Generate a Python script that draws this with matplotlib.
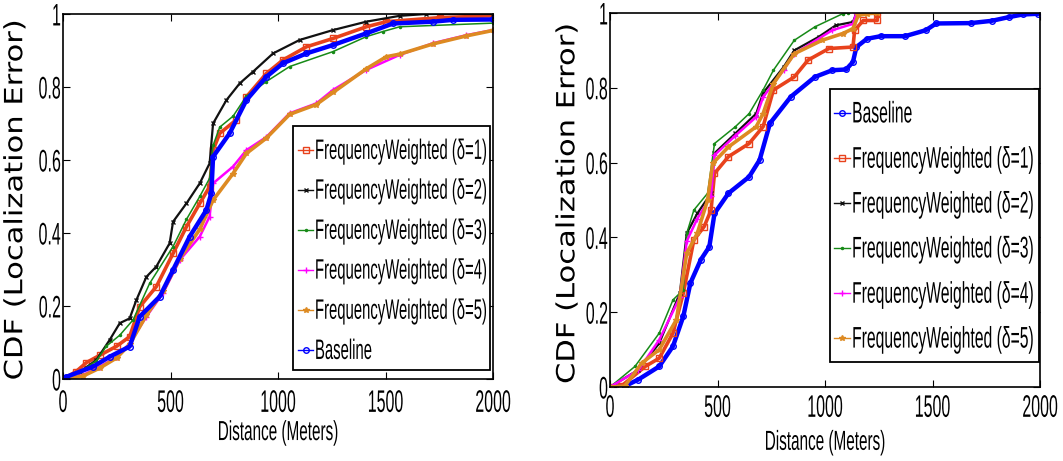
import numpy as np
import matplotlib.pyplot as plt
from matplotlib.patches import Rectangle
from matplotlib.patheffects import AbstractPathEffect
from matplotlib.transforms import Affine2D

# Dane - lewy wykres
l_red_x = [0, 60, 109, 171, 250, 310, 357, 434, 512, 574, 636, 682, 698, 729, 806, 853, 946, 1023, 1132, 1256, 1411, 1504, 1752, 2000]
l_red_y = [0, 0.02, 0.045, 0.065, 0.09, 0.116, 0.198, 0.253, 0.344, 0.417, 0.481, 0.527, 0.627, 0.673, 0.71, 0.773, 0.837, 0.874, 0.91, 0.933, 0.965, 0.979, 0.99, 0.995]
l_black_x = [0, 80, 155, 217, 264, 310, 341, 388, 434, 496, 512, 574, 636, 682, 698, 760, 822, 884, 977, 1101, 1256, 1411, 1566, 1690, 2000]
l_black_y = [0, 0.02, 0.052, 0.107, 0.153, 0.166, 0.216, 0.28, 0.308, 0.372, 0.431, 0.481, 0.536, 0.591, 0.70, 0.764, 0.81, 0.842, 0.892, 0.929, 0.956, 0.979, 0.995, 1.0, 1.0]
l_green_x = [0, 80, 155, 202, 264, 326, 403, 512, 574, 636, 682, 698, 729, 791, 853, 946, 1054, 1256, 1411, 1488, 1566, 2000]
l_green_y = [0, 0.02, 0.05, 0.09, 0.12, 0.162, 0.262, 0.363, 0.437, 0.5, 0.55, 0.64, 0.69, 0.72, 0.775, 0.815, 0.856, 0.897, 0.938, 0.952, 0.965, 0.975]
l_mag_x = [0, 93, 171, 250, 310, 388, 465, 543, 636, 682, 698, 791, 853, 946, 1054, 1178, 1256, 1411, 1566, 1721, 1876, 2000]
l_mag_y = [0, 0.011, 0.034, 0.06, 0.098, 0.171, 0.235, 0.326, 0.39, 0.445, 0.536, 0.582, 0.627, 0.663, 0.728, 0.755, 0.792, 0.847, 0.888, 0.92, 0.942, 0.956]
l_orange_x = [0, 93, 171, 250, 310, 388, 465, 543, 636, 698, 791, 853, 946, 1054, 1178, 1256, 1411, 1504, 1566, 1721, 1876, 2000]
l_orange_y = [0, 0.008, 0.03, 0.058, 0.095, 0.175, 0.24, 0.33, 0.41, 0.49, 0.563, 0.618, 0.66, 0.725, 0.752, 0.785, 0.85, 0.883, 0.89, 0.918, 0.94, 0.955]
l_blue_x = [0, 16, 140, 217, 310, 357, 450, 512, 589, 667, 690, 698, 775, 853, 946, 1023, 1132, 1256, 1411, 1535, 1721, 1814, 2000]
l_blue_y = [0, 0.006, 0.034, 0.061, 0.089, 0.171, 0.226, 0.299, 0.39, 0.463, 0.509, 0.609, 0.673, 0.764, 0.828, 0.865, 0.892, 0.915, 0.947, 0.974, 0.979, 0.984, 0.985]

# Dane - prawy wykres
r_blue_x = [0, 68, 132, 229, 293, 341, 374, 422, 462, 486, 551, 647, 696, 744, 841, 953, 1034, 1098, 1130, 1146, 1195, 1259, 1372, 1469, 1517, 1678, 1775, 1855, 1920, 1992]
r_blue_y = [0, 0.002, 0.02, 0.055, 0.109, 0.189, 0.278, 0.34, 0.375, 0.464, 0.518, 0.562, 0.607, 0.705, 0.776, 0.829, 0.847, 0.849, 0.869, 0.909, 0.931, 0.938, 0.938, 0.954, 0.972, 0.973, 0.979, 0.989, 0.996, 0.998]
r_red_x = [0, 52, 164, 229, 293, 341, 390, 438, 470, 486, 551, 647, 712, 760, 857, 921, 1018, 1130, 1138, 1178, 1243, 1243]
r_red_y = [0, 0.002, 0.055, 0.077, 0.144, 0.251, 0.393, 0.429, 0.473, 0.571, 0.616, 0.651, 0.696, 0.794, 0.829, 0.874, 0.905, 0.909, 0.954, 0.98, 0.98, 1.0]
r_black_x = [0, 132, 229, 325, 357, 406, 470, 486, 583, 680, 712, 808, 857, 970, 1050, 1130, 1146]
r_black_y = [0, 0.046, 0.117, 0.251, 0.411, 0.464, 0.518, 0.625, 0.678, 0.731, 0.786, 0.856, 0.9, 0.936, 0.967, 0.976, 1.0]
r_green_x = [0, 116, 229, 293, 341, 357, 390, 454, 486, 583, 647, 712, 760, 857, 953, 1082, 1106]
r_green_y = [0, 0.055, 0.144, 0.233, 0.26, 0.411, 0.473, 0.518, 0.651, 0.696, 0.731, 0.794, 0.847, 0.927, 0.963, 0.998, 1.0]
r_mag_x = [0, 132, 229, 325, 357, 406, 470, 486, 583, 680, 712, 808, 857, 1034, 1130, 1146]
r_mag_y = [0, 0.045, 0.126, 0.24, 0.39, 0.45, 0.51, 0.62, 0.672, 0.722, 0.775, 0.848, 0.891, 0.954, 0.971, 1.0]
r_orange_x = [0, 68, 148, 229, 309, 357, 406, 454, 478, 551, 680, 712, 760, 857, 986, 1082, 1130, 1155, 1196, 1243]
r_orange_y = [0, 0.002, 0.064, 0.1, 0.18, 0.358, 0.411, 0.5, 0.598, 0.642, 0.696, 0.731, 0.811, 0.891, 0.927, 0.945, 0.958, 0.994, 0.998, 1.0]

x_ticks = [0, 500, 1000, 1500, 2000]
y_ticks = [0, 0.2, 0.4, 0.6, 0.8, 1]
y_tick_labels = ["0", "0.2", "0.4", "0.6", "0.8", "1"]

# Style linii
styl = {
    'red': dict(color='#e8421c', marker='s', lw=2.6, ms=4, mfc='none', label="FrequencyWeighted (δ=1)"),
    'black': dict(color='#111111', marker='x', lw=1.6, ms=3, label="FrequencyWeighted (δ=2)"),
    'green': dict(color='#178a17', marker='.', lw=1.1, ms=3, label="FrequencyWeighted (δ=3)"),
    'mag': dict(color='#ff00ff', marker='+', lw=1.8, ms=4, label="FrequencyWeighted (δ=4)"),
    'orange': dict(color='#dd8a22', marker='*', lw=2.6, ms=4, label="FrequencyWeighted (δ=5)"),
    'blue': dict(color='#0000ff', marker='o', lw=3.2, ms=4, mfc='none', label="Baseline"),
}

FONT = ['Liberation Sans', 'DejaVu Sans']


class Rozciag(AbstractPathEffect):
    # rozciaga tekst w ukladzie liter: sx wzdluz tekstu, sy w pionie liter
    # ay - punkt zaczepienia w pionie (jednostki sciezki, 100 = 1 em)
    def __init__(self, sx=1.0, sy=1.0, ax_frac=0.5, ay=36.0):
        super().__init__()
        self.sx = sx
        self.sy = sy
        self.ax_frac = ax_frac
        self.ay = ay

    def draw_path(self, renderer, gc, tpath, affine, rgbFace=None):
        ext = tpath.get_extents()
        x0 = ext.x0 + self.ax_frac * ext.width
        t = Affine2D().translate(-x0, -self.ay).scale(self.sx, self.sy).translate(x0, self.ay) + affine
        renderer.draw_path(gc, tpath, t, rgbFace)


def uklad_osi(ax, xpad, xl_y, yl_x):
    ax.set_xlim(0, 2000)
    ax.set_ylim(0, 1)
    ax.set_xticks(x_ticks)
    ax.set_xticklabels([str(v) for v in x_ticks], family=FONT, fontsize=11.5)
    ax.set_yticks(y_ticks)
    ax.set_yticklabels(y_tick_labels, family=FONT, fontsize=11.5)
    ax.tick_params(direction='in', length=5, width=0.8, top=True, right=True)
    ax.tick_params(axis='x', pad=xpad)
    ax.tick_params(axis='y', pad=1.5)
    for lab in ax.get_xticklabels():
        lab.set_path_effects([Rozciag(sy=1.95, ay=71.6)])
    for lab in ax.get_yticklabels():
        lab.set_path_effects([Rozciag(sy=1.95, ay=36)])
    for s in ax.spines.values():
        s.set_linewidth(1.2)
    ax.set_xlabel("Distance (Meters)", family=FONT, fontsize=11, va='top',
                  path_effects=[Rozciag(sy=1.8, ay=72)])
    ax.xaxis.set_label_coords(0.5, xl_y)
    ax.set_ylabel("CDF (Localization Error)", family='DejaVu Sans', fontsize=22,
                  path_effects=[Rozciag(sy=0.82, ay=-24)])
    ax.yaxis.set_label_coords(yl_x, 0.49)


def legenda(ax, klucze, box, rows, hx, tx, size, sy):
    x0, y0, x1, y1 = box
    ax.add_patch(Rectangle((x0, y0), x1 - x0, y1 - y0, transform=ax.transAxes, facecolor='white',
                           edgecolor='black', lw=1.3, zorder=5, clip_on=False))
    for k, yy in zip(klucze, rows):
        st = styl[k]
        ax.plot([hx[0], (hx[0] + hx[1]) / 2, hx[1]], [yy, yy, yy], transform=ax.transAxes,
                color=st['color'], lw=1.0, marker=st['marker'], ms=st['ms'],
                mfc=st.get('mfc', st['color']), markevery=[1], zorder=6, clip_on=False)
        ax.text(tx, yy, st['label'], transform=ax.transAxes, family=FONT, fontsize=size,
                va='center', ha='left', zorder=6, path_effects=[Rozciag(sy=sy, ay=36)])


fig = plt.figure(figsize=(10.63, 4.61), dpi=100)

# Lewy wykres
ax1 = fig.add_axes([63 / 1063, 82 / 461, 430 / 1063, 365 / 461])
for k, xs, ys in [('red', l_red_x, l_red_y), ('black', l_black_x, l_black_y),
                  ('green', l_green_x, l_green_y), ('mag', l_mag_x, l_mag_y),
                  ('orange', l_orange_x, l_orange_y), ('blue', l_blue_x, l_blue_y)]:
    ax1.plot(xs, ys, **styl[k])
uklad_osi(ax1, 7.2, -0.113, -0.084)
legenda(ax1, ['red', 'black', 'green', 'mag', 'orange', 'blue'],
        (0.535, 0.025, 0.993, 0.693),
        [0.627, 0.518, 0.408, 0.299, 0.189, 0.079], (0.547, 0.581), 0.586, 10.7, 1.89)

# Prawy wykres
ax2 = fig.add_axes([610 / 1063, 74 / 461, 430 / 1063, 374 / 461])
for k, xs, ys in [('blue', r_blue_x, r_blue_y), ('red', r_red_x, r_red_y),
                  ('black', r_black_x, r_black_y), ('green', r_green_x, r_green_y),
                  ('mag', r_mag_x, r_mag_y), ('orange', r_orange_x, r_orange_y)]:
    ax2.plot(xs, ys, **styl[k])
uklad_osi(ax2, 5, -0.115, -0.072)
legenda(ax2, ['blue', 'red', 'black', 'green', 'mag', 'orange'],
        (0.512, 0.067, 0.998, 0.797),
        [0.733, 0.612, 0.492, 0.372, 0.251, 0.131], (0.521, 0.558), 0.563, 11.3, 1.9)

fig.savefig("out.png", dpi=100)
